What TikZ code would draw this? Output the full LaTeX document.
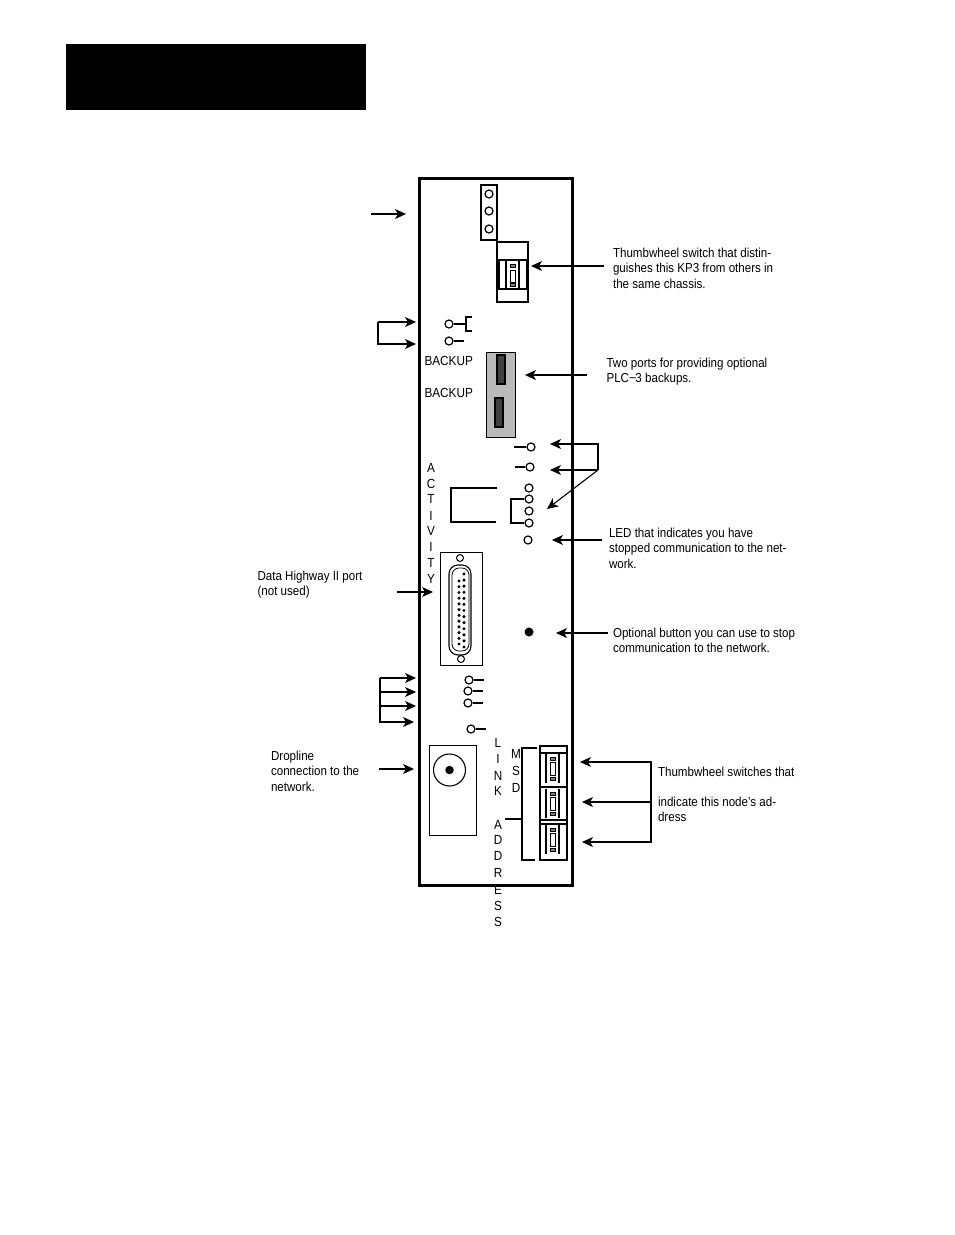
\documentclass[tikz,border=0pt]{standalone}
\usepackage{fontspec}
\setmainfont[FakeStretch=0.89]{Liberation Sans}
\usetikzlibrary{arrows.meta}
\begin{document}
\begin{tikzpicture}[x=1pt,y=-1pt,line width=1.1pt]
\tikzstyle{led} = [circle, draw=black, fill=white, line width=1.2pt, inner sep=0pt, minimum size=8pt]
\tikzstyle{pin} = [circle, fill=black, inner sep=0pt, minimum size=3.4pt]
\tikzstyle{note} = [anchor=north west, align=left, inner sep=0pt, font=\fontsize{13}{15.5}\selectfont]
\tikzstyle{letter} = [inner sep=0pt, font=\fontsize{13.2}{15}\selectfont]
\tikzstyle{edge} = [draw=black, -{Stealth[length=11pt,width=10pt,inset=3pt]}]

\useasboundingbox (0,0) rectangle (954,1235);
\fill[black] (66,44) rectangle (366,110);
\draw[line width=3pt] (419,178) rectangle (572,885);

% top of the panel
\draw[line width=1.3pt] (481,185) rectangle (497,240);
\node[led] (t1) at (489,194) {};
\node[led] (t2) at (489,211) {};
\node[led] (t3) at (489,229) {};

% thumbwheel for the chassis
\draw (497,242) rectangle (528,302);
\draw[line width=1.3pt] (499,260) rectangle (527,289);
\draw (506,260) -- (506,289) (519,260) -- (519,289);
\draw[line width=.9pt] (510,270) rectangle (515,282);
\draw[line width=.9pt,fill=gray] (510,264) rectangle (515,267);
\draw[line width=.9pt,fill=gray] (510,283) rectangle (515,286);

\node[led] (v1) at (449,324) {};
\node[led] (v2) at (449,341) {};
\coordinate (v1a) at (465,324);
\draw (v1) -- (v1a);
\draw (472,317) -| (466,331) -- (472,331);
\coordinate (v2a) at (464,341);
\draw[line width=1.5pt] (v2) -- (v2a);

\node[note, font=\fontsize{13.2}{15}\selectfont] (back1) at (424,356) {BACKUP};
\node[note, font=\fontsize{13.2}{15}\selectfont] (back2) at (424,388) {BACKUP};
\draw[fill=black!27, line width=1pt] (486,352) rectangle (515,437);
\draw[fill=black!75] (497,355) rectangle (505,384);
\draw[fill=black!75] (495,398) rectangle (503,427);

% status lights
\node[led] (s1) at (531,447) {};
\node[led] (s2) at (530,467) {};
\coordinate (s1a) at (514,447);
\coordinate (s2a) at (515,467);
\draw (s1a) -- (s1);
\draw (s2a) -- (s2);
\node[led] (r1) at (529,488) {};
\node[led] (r2) at (529,499) {};
\node[led] (r3) at (529,511) {};
\node[led] (r4) at (529,523) {};
\node[led] (r5) at (528,540) {};
\draw (r2) -- (511,499) -- (511,523) -- (r4);
\draw (497,488) -- (451,488) -- (451,522) -- (496,522);
\draw[line width=1.5pt] (451,488) -- (497,488);

\foreach \ch/\y in {A/468,C/484,T/499,I/516,V/531,I/547,T/563,Y/579}
  \node[letter] (act\y) at (431,\y) {\ch};

% data highway connector
\draw[line width=1pt] (440,552) rectangle (482,665);
\node[led, minimum size=7pt, line width=1pt] (scr1) at (460,558) {};
\node[led, minimum size=7pt, line width=1pt] (scr2) at (461,659) {};
\draw[rounded corners=9pt] (449,565) rectangle (471,655);
\draw[line width=.8pt, rounded corners=7pt] (452,568) rectangle (469,651);
\foreach \i in {0,...,12}
  \node[pin] (pa\i) at (464,574+\i*6.08) {};
\foreach \i in {0,...,11}
  \node[pin] (pb\i) at (459,581+\i*5.73) {};

\node[circle, fill=black, inner sep=0pt, minimum size=9pt] (stop) at (529,632) {};

\node[led] (b1) at (469,680) {};
\node[led] (b2) at (468,691) {};
\node[led] (b3) at (468,703) {};
\node[led] (b4) at (471,729) {};
\coordinate (b1a) at (484,680);
\coordinate (b2a) at (483,691);
\coordinate (b3a) at (483,703);
\coordinate (b4a) at (486,729);
\foreach \i in {1,2,3,4}
  \draw (b\i) -- (b\i a);

% dropline
\draw[line width=1pt] (429,745) rectangle (476,835);
\node[circle, draw=black, inner sep=0pt, minimum size=32pt] (jack) at (449.5,770) {};
\node[circle, fill=black, inner sep=0pt, minimum size=8.5pt] (jackc) at (449.5,770) {};

\foreach \ch/\y in {L/743,I/759,N/776,K/791,A/825,D/840,D/856,R/873,E/890,S/906,S/922}
  \node[letter] (link\y) at (498,\y) {\ch};
\foreach \ch/\y in {M/754,S/771,D/788}
  \node[letter] (msd\y) at (516,\y) {\ch};

\draw[line width=1.4pt] (537,748) -- (522,748) -- (522,860) -- (535,860);
\draw (505,819) -- (522,819);

% address thumbwheels
\draw[line width=1.4pt] (540,746) rectangle (567,860);
\draw[line width=1.3pt] (540,753) -- (567,753) (540,787) -- (567,787) (540,820) -- (567,820) (540,824) -- (567,824);
\foreach \y in {754,789,825} {
  \draw (546,\y) -- (546,\y+29) (559,\y) -- (559,\y+29);
  \draw[line width=.8pt] (550,\y+8) rectangle (555,\y+21);
  \draw[line width=.8pt, fill=gray] (550,\y+3) rectangle (555,\y+6);
  \draw[line width=.8pt, fill=gray] (550,\y+23) rectangle (555,\y+26);
}

% notes
\node[note] (nwheel) at (612.5,247.5) {Thumbwheel switch that distin-\\guishes this KP3 from others in\\the same chassis.};
\node[note] (nback) at (606,357.5) {Two ports for providing optional\\PLC\rlap{\raisebox{.25ex}{\kern.05em--}}\phantom{--}3 backups.};
\node[note] (nled) at (608.5,527.5) {LED that indicates you have\\stopped communication to the net-\\work.};
\node[note] (nstop) at (612.5,627.5) {Optional button you can use to stop\\communication to the network.};
\node[note] (nddh) at (257,570.5) {Data Highway II port\\(not used)};
\node[note] (ndrop) at (270.5,750.5) {Dropline\\connection to the\\network.};
\node[note] (naddr) at (657.5,766.5) {Thumbwheel switches that};
\node[note] (naddr2) at (657.5,796.5) {indicate this node’s ad-\\dress};

% arrows
\coordinate (a1s) at (371,214);
\coordinate (a1e) at (406,214);
\draw[edge] (a1s) -- (a1e);

\coordinate (a2s) at (378,322);
\coordinate (a2m) at (378,344);
\coordinate (a2e) at (416,322);
\coordinate (a2f) at (416,344);
\draw[edge] (a2s) -- (a2e);
\draw[edge] (a2s) -- (a2m) -- (a2f);

\coordinate (a3s) at (604,266);
\coordinate (a3e) at (531,266);
\draw[edge] (a3s) -- (a3e);
\coordinate (a4s) at (587,375);
\coordinate (a4e) at (525,375);
\draw[edge] (a4s) -- (a4e);

\coordinate (a5s) at (598,444);
\coordinate (a5m) at (598,470);
\coordinate (a5e) at (550,444);
\coordinate (a5f) at (550,470);
\coordinate (a5g) at (547,509);
\draw[edge] (a5m) -- (a5s) -- (a5e);
\draw[edge] (a5m) -- (a5f);
\draw[edge] (a5m) -- (a5g);

\coordinate (a6s) at (602,540);
\coordinate (a6e) at (552,540);
\draw[edge] (a6s) -- (a6e);
\coordinate (a7s) at (397,592);
\coordinate (a7e) at (433,592);
\draw[edge] (a7s) -- (a7e);
\coordinate (a8s) at (608,633);
\coordinate (a8e) at (556,633);
\draw[edge] (a8s) -- (a8e);

\coordinate (a9s) at (380,678);
\foreach \i/\x/\y in {1/416/678,2/416/692,3/416/706,4/414/722} {
  \coordinate (a9m\i) at (380,\y);
  \coordinate (a9e\i) at (\x,\y);
  \draw[edge] (a9s) -- (a9m\i) -- (a9e\i);
}
\coordinate (a10s) at (379,769);
\coordinate (a10e) at (414,769);
\draw[edge] (a10s) -- (a10e);

\coordinate (a11s) at (651,762);
\coordinate (a11m) at (651,802);
\coordinate (a11b) at (651,842);
\coordinate (a11e) at (580,762);
\coordinate (a11f) at (582,802);
\coordinate (a11g) at (582,842);
\draw[edge] (a11m) -- (a11s) -- (a11e);
\draw[edge] (a11m) -- (a11f);
\draw[edge] (a11m) -- (a11b) -- (a11g);
\end{tikzpicture}
\end{document}
